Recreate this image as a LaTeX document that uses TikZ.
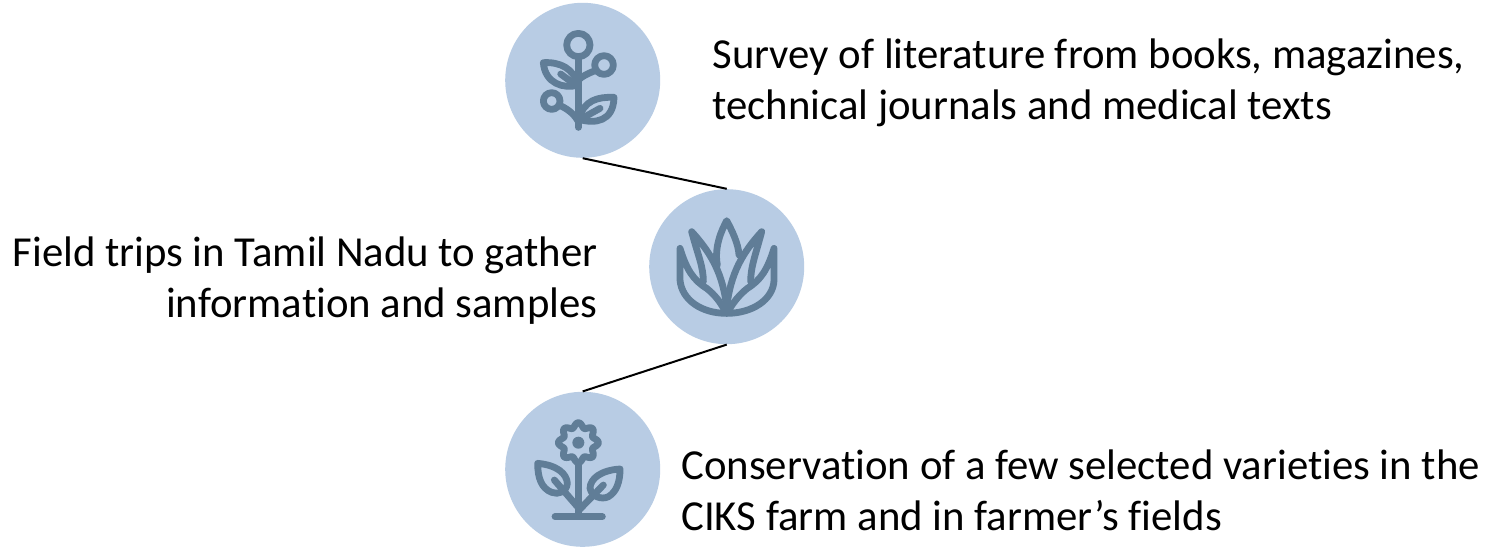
\documentclass[tikz,border=0pt]{standalone}
\usepackage{fontspec}
\setmainfont{Carlito}[Ligatures=NoCommon]
\definecolor{disc}{RGB}{184,204,228}
\definecolor{ink}{RGB}{96,125,151}
\tikzset{
  disc/.style={circle,fill=disc,draw=none,minimum size=77.5pt,inner sep=0pt},
  label/.style={inner sep=0pt,font=\fontsize{21.38}{25.5}\selectfont},
  link/.style={draw=black,line width=1pt},
  icon/.style={draw=ink,line width=3.4pt,line cap=round,line join=round},
  zoomed/.style={x=0.1667pt,y=-0.1667pt}
}
\begin{document}
\begin{tikzpicture}[x=0.5pt,y=-0.5pt]
\useasboundingbox (0,0) rectangle (1498,547);
\fill[white] (0,0) rectangle (1498,547);
\node[disc] (c1) at (582.7,80.3) {};
\node[disc] (c2) at (726.7,266.7) {};
\node[disc] (c3) at (582.7,469.3) {};
\draw[link] (c1.south) -- (c2.north);
\draw[link] (c2.south) -- (c3.north);
\node[label,anchor=base west,align=left] (t1) at (712,119.6) {Survey of literature from books, magazines,\\technical journals and medical texts};
\node[label,anchor=base east,align=right] (t2) at (598,317.6) {Field trips in Tamil Nadu to gather\\information and samples};
\node[label,anchor=base west,align=left] (t3) at (681,530.6) {Conservation of a few selected varieties in the\\CIKS farm and in farmer’s fields};
% icon 1
\begin{scope}[shift={(495,0)},zoomed]
\draw[icon] (250,135) circle (35);
\draw[icon] (327,195) circle (28);
\draw[icon] (170,303) circle (25);
\draw[icon] (250,170) -- (250,382);
\draw[icon] (250,240) .. controls (262,228) and (280,220) .. (300,212);
\draw[icon] (198,318) .. controls (220,328) and (240,345) .. (250,365);
\draw[icon] (145,188) .. controls (195,185) and (235,205) .. (250,255) .. controls (205,268) and (150,250) .. (145,188);
\draw[icon] (197,222) -- (235,250);
\draw[icon] (357,292) .. controls (310,290) and (265,300) .. (252,358) .. controls (300,372) and (355,365) .. (357,292);
\draw[icon] (315,325) -- (270,350);
\end{scope}
% icon 2
\begin{scope}[shift={(640,180)},zoomed]
\draw[icon] (232,255) .. controls (222,200) and (245,150) .. (260,122) .. controls (275,150) and (295,190) .. (297,225);
\draw[icon] (190,305) .. controls (190,260) and (175,230) .. (155,155) .. controls (210,215) and (250,280) .. (260,385);
\draw[icon] (332,305) .. controls (332,260) and (345,230) .. (365,155) .. controls (310,215) and (270,280) .. (260,385);
\draw[icon] (255,392) .. controls (240,365) and (225,345) .. (200,325) .. controls (160,300) and (140,270) .. (120,205) -- (120,300) .. controls (125,360) and (185,400) .. (260,400) .. controls (335,400) and (400,360) .. (402,300) -- (402,205) .. controls (382,270) and (362,300) .. (322,325) .. controls (297,345) and (282,365) .. (265,392);
\end{scope}
% icon 3
\begin{scope}[shift={(495,385)},zoomed]
\draw[icon] plot[domain=0:360,samples=121,smooth] ({250+(53+7*cos(8*\x))*cos(\x)},{173+(53+7*cos(8*\x))*sin(\x)}) -- cycle;
\fill[ink] (250,173) circle (18);
\draw[icon] (250,235) -- (250,390);
\draw[icon] (180,395) -- (322,395);
\draw[icon] (128,235) .. controls (185,240) and (215,265) .. (217,295) .. controls (215,320) and (190,330) .. (170,322) .. controls (140,310) and (128,280) .. (128,235);
\draw[icon] (178,285) -- (250,368);
\draw[icon] (375,252) .. controls (320,255) and (285,280) .. (285,310) .. controls (290,335) and (320,345) .. (340,335) .. controls (365,320) and (375,290) .. (375,252);
\draw[icon] (325,300) -- (252,375);
\end{scope}
\end{tikzpicture}
\end{document}
